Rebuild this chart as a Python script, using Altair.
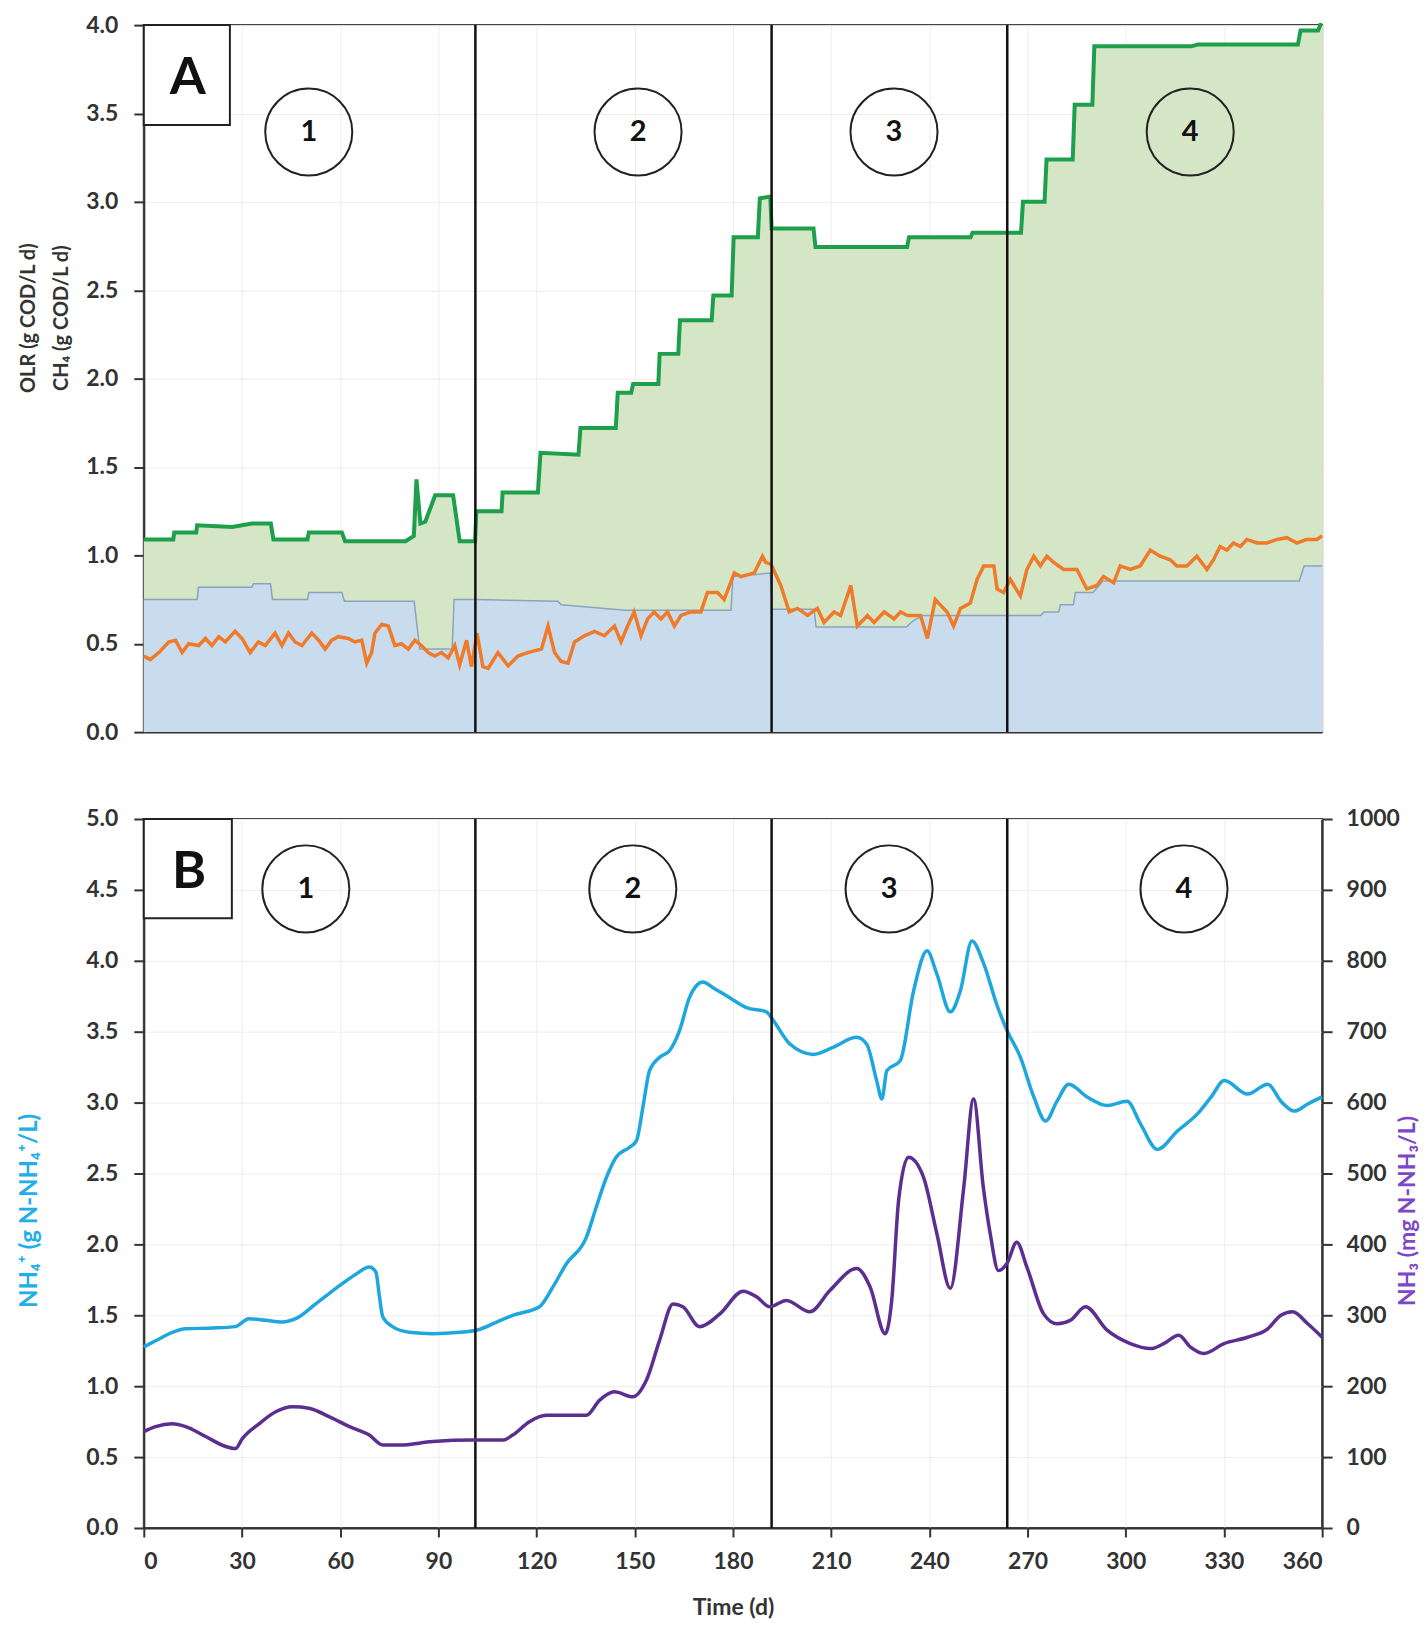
import altair as alt
import pandas as pd

# ---------------- data ----------------
# Panel A : OLR (green step line, day, g COD/L d)
olr_pts = [(0, 1.09), (9, 1.09), (9.3, 1.13), (16, 1.13), (16.3, 1.17), (27, 1.16), (33, 1.18),
           (38.8, 1.18), (39.6, 1.09), (50, 1.09), (50.4, 1.13), (60.5, 1.13), (61.5, 1.08),
           (80, 1.08), (82.5, 1.11), (83.3, 1.43), (84.5, 1.18), (86, 1.19), (89, 1.34),
           (94.5, 1.34), (96.5, 1.08), (101.2, 1.08), (101.6, 1.25), (109.3, 1.25), (109.6, 1.355),
           (120.4, 1.355), (121.2, 1.58), (132.8, 1.57), (133.4, 1.72), (144.2, 1.72), (144.8, 1.92),
           (148.9, 1.92), (149.5, 1.97), (157.2, 1.97), (157.6, 2.14), (163.3, 2.14), (163.8, 2.33),
           (173.5, 2.33), (174.0, 2.47), (179.6, 2.47), (180.2, 2.80), (187.6, 2.80), (188.2, 3.02),
           (191.4, 3.03), (191.8, 2.85), (204.6, 2.85), (205.2, 2.745), (233.2, 2.745), (233.8, 2.80),
           (252.6, 2.80), (253.2, 2.825), (268.0, 2.825), (268.6, 3.00), (275.2, 3.00), (275.8, 3.24),
           (283.8, 3.24), (284.4, 3.55), (289.8, 3.55), (290.4, 3.88), (320, 3.88), (322, 3.89),
           (352.6, 3.89), (353.4, 3.97), (358.8, 3.97), (359.4, 4.0), (360, 4.0)]

# Panel A : blue area (day, g COD/L d)
blue_pts = [(0, 0.75), (16.3, 0.75), (16.7, 0.82), (33, 0.82), (33.5, 0.84), (38.7, 0.84),
            (39.3, 0.75), (50, 0.75), (50.4, 0.79), (60.5, 0.79), (61.3, 0.74), (82.6, 0.74),
            (84.3, 0.47), (94.2, 0.47), (94.8, 0.75), (101.5, 0.75), (126.5, 0.74), (127.5, 0.72),
            (147, 0.69), (179.4, 0.69), (180, 0.88), (191.4, 0.90), (192, 0.695), (204.8, 0.695),
            (205.4, 0.595), (233, 0.595), (235, 0.63), (238, 0.66), (274, 0.66), (275, 0.68),
            (279.5, 0.68), (280, 0.72), (284, 0.72), (284.6, 0.79), (290, 0.79), (293, 0.855),
            (353, 0.855), (354.5, 0.94), (360, 0.94)]

# Panel A : CH4 production (orange line)
ch4_pts = [(0, 0.43), (2, 0.41), (4.6, 0.45), (7.6, 0.51), (9.7, 0.52), (11.7, 0.45), (13.7, 0.50),
           (16.8, 0.49), (18.8, 0.53), (20.8, 0.49), (22.9, 0.54), (24.9, 0.51), (27.9, 0.57),
           (30, 0.53), (32.5, 0.45), (35, 0.51), (37.1, 0.49), (40.1, 0.56), (42.2, 0.49),
           (44.2, 0.56), (46.2, 0.51), (48.3, 0.49), (51.3, 0.56), (53.4, 0.52), (55.4, 0.47),
           (57.4, 0.52), (59.4, 0.54), (62.5, 0.53), (64.5, 0.51), (66.6, 0.52), (68.1, 0.39),
           (69.6, 0.45), (70.6, 0.56), (72.7, 0.61), (74.7, 0.60), (76.7, 0.49), (78.7, 0.50),
           (80.8, 0.47), (82.8, 0.52), (84.8, 0.49), (86.9, 0.45), (88.9, 0.43), (90.9, 0.45),
           (93, 0.42), (95, 0.49), (96.5, 0.38), (98.6, 0.52), (100.1, 0.37), (101.8, 0.56),
           (103.6, 0.37), (105.2, 0.36), (108.2, 0.45), (111.3, 0.375), (114.3, 0.43), (117.3, 0.45),
           (121.5, 0.47), (123.5, 0.60), (125.5, 0.45), (127.5, 0.40), (129.6, 0.39), (131.6, 0.51),
           (134.6, 0.545), (137.7, 0.57), (140.7, 0.545), (143.8, 0.60), (145.8, 0.51), (147.8, 0.60),
           (149.8, 0.68), (151.9, 0.545), (153.9, 0.64), (155.9, 0.68), (158, 0.64), (160, 0.68),
           (162.1, 0.60), (164.1, 0.66), (167.1, 0.68), (170.2, 0.68), (172.2, 0.79), (175.3, 0.79),
           (177.3, 0.75), (180.4, 0.90), (182.4, 0.88), (186.5, 0.90), (189, 0.995), (190, 0.96),
           (191.6, 0.95), (194.6, 0.83), (197.2, 0.68), (199.7, 0.70), (202.8, 0.66), (205.8, 0.70),
           (207.8, 0.62), (210.9, 0.68), (212.9, 0.66), (216, 0.83), (218, 0.60), (221.1, 0.66),
           (223.1, 0.62), (226.2, 0.68), (229.2, 0.64), (231.2, 0.68), (233.3, 0.66), (237.3, 0.66),
           (239.4, 0.53), (241.8, 0.75), (245.4, 0.68), (247.4, 0.60), (249.5, 0.70), (252.5, 0.73),
           (254.6, 0.865), (256.6, 0.94), (259.7, 0.94), (260.7, 0.81), (262.7, 0.79), (264.7, 0.865),
           (267.8, 0.77), (269.8, 0.92), (271.9, 0.995), (273.9, 0.94), (275.9, 0.995), (278, 0.96),
           (281, 0.92), (285.1, 0.92), (288.1, 0.81), (291.2, 0.83), (293.2, 0.88), (296.3, 0.845),
           (298.3, 0.94), (301.4, 0.92), (304.4, 0.94), (307.5, 1.03), (310.5, 0.995), (313.6, 0.975),
           (315.6, 0.94), (318.7, 0.94), (321.7, 0.995), (324.8, 0.92), (326.8, 0.975), (328.8, 1.05),
           (330.9, 1.03), (332.9, 1.07), (335, 1.05), (337, 1.09), (340.1, 1.07), (343.1, 1.07),
           (346.2, 1.09), (349.2, 1.10), (352.3, 1.07), (355.3, 1.09), (358.4, 1.09), (360, 1.11)]

# Panel B : NH4+ (g N-NH4+/L, left axis)
nh4_pts = [(0, 1.277), (3.6, 1.32), (8.7, 1.38), (12.8, 1.405), (21, 1.41), (28, 1.42), (32.1, 1.476),
           (37.2, 1.465), (42.3, 1.453), (46.4, 1.476), (52.5, 1.58), (58.7, 1.69), (64.8, 1.79),
           (68.9, 1.84), (70.9, 1.805), (72, 1.63), (73, 1.49), (76, 1.42), (81.1, 1.38), (88.3, 1.37),
           (96.4, 1.38), (102.5, 1.40), (107.6, 1.45), (112.7, 1.50), (120.9, 1.56), (125, 1.70),
           (129, 1.86), (135.2, 2.05), (138.2, 2.26), (141.3, 2.47), (144.3, 2.615), (148.4, 2.685),
           (150.5, 2.73), (152.5, 2.97), (154.5, 3.225), (157.6, 3.32), (160.6, 3.366), (163.7, 3.51),
           (166.7, 3.74), (170.8, 3.85), (173.9, 3.81), (179, 3.74), (184.1, 3.67), (190.2, 3.64),
           (192.3, 3.58), (197.4, 3.413), (204.5, 3.34), (210.6, 3.39), (217.8, 3.46), (220.9, 3.41),
           (223.9, 3.155), (225.5, 3.026), (227, 3.225), (231.1, 3.296), (235.2, 3.79), (239.3, 4.07),
           (242.3, 3.906), (246.4, 3.64), (249.5, 3.79), (253, 4.14), (256.6, 3.98), (260.6, 3.69),
           (263.7, 3.51), (267.8, 3.32), (271.9, 3.04), (275.5, 2.87), (279, 3.01), (282.6, 3.13),
           (288.2, 3.04), (294.3, 2.98), (300.4, 3.01), (304.5, 2.85), (309.7, 2.67), (315.8, 2.80),
           (321.9, 2.92), (326.1, 3.04), (330.1, 3.155), (337.2, 3.06), (343.4, 3.13), (347.4, 3.01),
           (351.5, 2.94), (355.6, 2.99), (360, 3.04)]

# Panel B : NH3 (mg N-NH3/L, right axis)
nh3_pts = [(0, 136), (3.6, 143), (8.7, 147), (12.8, 143), (18.9, 129), (25, 115), (28, 112), (30.1, 126),
           (35.2, 147), (40.3, 164), (45.4, 171), (50.5, 169), (56.6, 157), (62.8, 143), (68.9, 131),
           (73, 117), (78.1, 117), (88.3, 122), (100.5, 124), (109.6, 124), (112.7, 131), (117.8, 150),
           (122.9, 159), (129, 159), (135.2, 159), (139.2, 180), (143.8, 192), (149.4, 185),
           (153.5, 208), (157.6, 265), (161.7, 316), (164.7, 312), (169.8, 284), (176, 302),
           (183.1, 334), (187.2, 326), (191.3, 312), (196.3, 321), (203.5, 305), (209.6, 335),
           (217.8, 366), (221.9, 340), (226.5, 274), (228.5, 321), (230.6, 462), (233.6, 523),
           (238.2, 495), (242.3, 415), (246.4, 338), (250.5, 480), (253.5, 605), (256.5, 480),
           (258.6, 415), (261.1, 363), (263.7, 373), (266.7, 403), (269.8, 368), (274.9, 302),
           (279, 288), (283.1, 293), (287.7, 312), (294.3, 279), (301.4, 260), (307.6, 253),
           (311.6, 260), (316.2, 272), (319.8, 255), (323.9, 246), (330, 260), (337.2, 269),
           (343.4, 281), (347.4, 300), (351, 305), (355.6, 288), (360, 269)]

phase_bounds = [101.3, 191.8, 263.8]
phase_names = ["1", "2", "3", "4"]
phase_lbl_x_A = [50.4, 151.0, 229.2, 319.7]
phase_lbl_x_B = [49.5, 149.4, 227.7, 317.8]
phase_lbl_y_A = 3.395
phase_lbl_y_B = 4.507
panel_box_A = {"x0": 0, "x1": 26.3, "y0": 3.435, "y1": 4.0, "tx": 13.4, "ty": 3.70, "label": "A"}
panel_box_B = {"x0": 0, "x1": 26.9, "y0": 4.30, "y1": 5.0, "tx": 13.8, "ty": 4.627, "label": "B"}

x_ticks = list(range(0, 361, 30))
yA_ticks = [0, 0.5, 1.0, 1.5, 2.0, 2.5, 3.0, 3.5, 4.0]
yB_ticks = [0, 0.5, 1.0, 1.5, 2.0, 2.5, 3.0, 3.5, 4.0, 4.5, 5.0]
yR_ticks = list(range(0, 1001, 100))

# ---------------- styling ----------------
GREEN = "#1d9f4c"
GREEN_FILL = "#d5e6c6"
BLUE_FILL = "#c9dcee"
BLUE_LINE = "#8aa5ba"
ORANGE = "#ef7b2a"
CYAN = "#1ea6de"
PURPLE = "#5b2f8f"
DARK = "#333333"
FONT = "Lato"

W = 1180


def frame(pts):
    return pd.DataFrame({"d": [p[0] for p in pts], "v": [p[1] for p in pts],
                         "i": list(range(len(pts)))})


XSCALE = alt.Scale(domain=[0, 360], nice=False, zero=False)

# ---------------- axes ----------------
axA_x = alt.Axis(values=x_ticks, labels=False, ticks=False, title=None, grid=True)
axA_y = alt.Axis(values=yA_ticks, format=".1f", tickSize=10, labelPadding=16,
                 title=["OLR (g COD/L d)", "CH₄ (g COD/L d)"], titleX=-115, titleY=293,
                 titleBaseline="middle", titleLineHeight=33, titleColor=DARK, titleFontSize=20)
axB_x = alt.Axis(values=x_ticks, format="d", tickSize=9, labelPadding=14, grid=True,
                 title="Time (d)", titleY=80, titleBaseline="middle", titleColor=DARK,
                 titleFontSize=23)
axB_y = alt.Axis(values=yB_ticks, format=".1f", tickSize=10, labelPadding=16,
                 title="NH₄⁺ (g N-NH₄⁺/L)", titleX=-114, titleY=392, titleBaseline="middle",
                 titleColor="#22aee9", titleFontSize=24)
axB_r = alt.Axis(values=yR_ticks, format="d", tickSize=10, labelPadding=14, grid=False,
                 orient="right", title="NH₃ (mg N-NH₃/L)", titleX=85, titleY=392,
                 titleAngle=270, titleBaseline="middle", titleColor="#7d47c8", titleFontSize=23)

YA = alt.Scale(domain=[0, 4], nice=False)
YB = alt.Scale(domain=[0, 5], nice=False)


def X(field, ax):
    return alt.X(field, scale=XSCALE, axis=ax)


def Y(field, sc, ax):
    return alt.Y(field, scale=sc, axis=ax)


def annotations(box, lbl_x, lbl_y, axx, axy, ysc):
    rules = alt.Chart(pd.DataFrame({"d": phase_bounds})).mark_rule(
        color="#111111", strokeWidth=2.5).encode(X("d:Q", axx))
    bdf = pd.DataFrame([box])
    rect = alt.Chart(bdf).mark_rect(fill="white", stroke="#222222", strokeWidth=2).encode(
        x=X("x0:Q", axx), x2="x1:Q", y=Y("y0:Q", ysc, axy), y2="y1:Q")
    letter = alt.Chart(bdf).mark_text(font=FONT, fontSize=52, fontWeight="bold", color="#111111",
                                      baseline="middle", align="center").encode(
        x=X("tx:Q", axx), y=Y("ty:Q", ysc, axy), text="label:N")
    ldf = pd.DataFrame({"d": lbl_x, "v": [lbl_y] * len(lbl_x), "t": phase_names})
    circ = alt.Chart(ldf).mark_point(shape="circle", size=7600, filled=False, opacity=1,
                                     stroke="#222222", strokeWidth=2).encode(
        X("d:Q", axx), Y("v:Q", ysc, axy))
    nums = alt.Chart(ldf).mark_text(font=FONT, fontSize=29, fontWeight="bold", color="#111111",
                                    baseline="middle", align="center").encode(
        X("d:Q", axx), Y("v:Q", ysc, axy), text="t:N")
    return [rules, rect, letter, circ, nums]


# ---------------- panel A ----------------
green_area = alt.Chart(frame(olr_pts)).mark_area(color=GREEN_FILL, opacity=1).encode(
    X("d:Q", axA_x), Y("v:Q", YA, axA_y))
blue_area = alt.Chart(frame(blue_pts)).mark_area(
    color=BLUE_FILL, opacity=1,
    line=alt.OverlayMarkDef(color=BLUE_LINE, strokeWidth=1.5)).encode(
    X("d:Q", axA_x), Y("v:Q", YA, axA_y))
ch4_line = alt.Chart(frame(ch4_pts)).mark_line(color=ORANGE, strokeWidth=3.5).encode(
    X("d:Q", axA_x), Y("v:Q", YA, axA_y))
olr_line = alt.Chart(frame(olr_pts)).mark_line(color=GREEN, strokeWidth=4).encode(
    X("d:Q", axA_x), Y("v:Q", YA, axA_y))

chartA = alt.layer(green_area, blue_area, ch4_line, olr_line,
                   *annotations(panel_box_A, phase_lbl_x_A, phase_lbl_y_A, axA_x, axA_y, YA)).properties(
    width=W, height=708)

# ---------------- panel B ----------------
nh4_line = alt.Chart(frame(nh4_pts)).mark_line(color=CYAN, strokeWidth=3.5, interpolate="monotone").encode(
    X("d:Q", axB_x), Y("v:Q", YB, axB_y))
left_layer = alt.layer(nh4_line, *annotations(panel_box_B, phase_lbl_x_B, phase_lbl_y_B, axB_x, axB_y, YB))

nh3_line = alt.Chart(frame(nh3_pts)).mark_line(color=PURPLE, strokeWidth=3.5, interpolate="monotone").encode(
    X("d:Q", axB_x), alt.Y("v:Q", scale=alt.Scale(domain=[0, 1000], nice=False), axis=axB_r))

chartB = alt.layer(left_layer, nh3_line).resolve_scale(y="independent").properties(width=W, height=710)

chart = alt.vconcat(chartA, chartB, spacing=62).properties(
    padding={"left": 9, "top": 4, "right": 0, "bottom": 0}
).configure_axis(
    labelFont=FONT, labelFontSize=23, labelFontWeight="bold", labelColor=DARK,
    titleFont=FONT, titleFontSize=19, titleFontWeight="bold",
    domainColor=DARK, domainWidth=2, tickColor=DARK, tickWidth=2,
    gridColor="#ededed", gridWidth=1
).configure_view(stroke="#444444", strokeWidth=2)

chart.save("out.html", embed_options={"renderer": "svg", "actions": False})
